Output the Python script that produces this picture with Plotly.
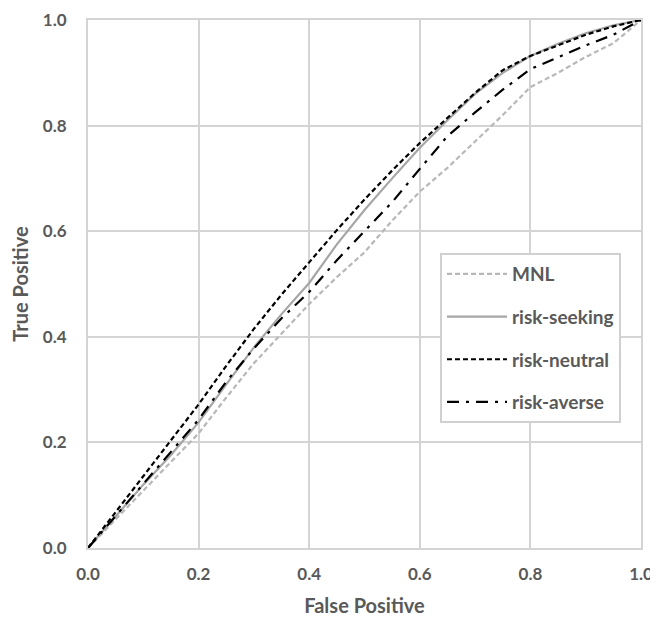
import plotly.graph_objects as go

fpr = [0.0, 0.05, 0.1, 0.15, 0.2, 0.25, 0.3, 0.35, 0.4, 0.45, 0.5,
       0.55, 0.6, 0.65, 0.7, 0.75, 0.8, 0.85, 0.9, 0.95, 1.0]

mnl = [0.0, 0.055, 0.11, 0.163, 0.217, 0.285, 0.35, 0.407, 0.462, 0.513, 0.56,
       0.62, 0.675, 0.72, 0.77, 0.82, 0.873, 0.90, 0.93, 0.956, 1.0]
risk_seeking = [0.0, 0.06, 0.12, 0.176, 0.238, 0.31, 0.38, 0.443, 0.502, 0.575, 0.64,
                0.70, 0.758, 0.81, 0.86, 0.90, 0.932, 0.955, 0.975, 0.99, 1.0]
risk_neutral = [0.0, 0.068, 0.136, 0.204, 0.272, 0.345, 0.415, 0.48, 0.542, 0.602, 0.66,
                0.715, 0.767, 0.815, 0.862, 0.905, 0.932, 0.952, 0.972, 0.988, 1.0]
risk_averse = [0.0, 0.06, 0.12, 0.182, 0.243, 0.315, 0.378, 0.435, 0.485, 0.545, 0.60,
               0.655, 0.718, 0.78, 0.825, 0.868, 0.907, 0.93, 0.952, 0.972, 1.0]

tick_vals = [0.0, 0.2, 0.4, 0.6, 0.8, 1.0]
tick_text = ["0.0", "0.2", "0.4", "0.6", "0.8", "1.0"]

series = [
    ("MNL", mnl, "#b8b8b8", "5px,3px"),
    ("risk-seeking", risk_seeking, "#a6a6a6", "solid"),
    ("risk-neutral", risk_neutral, "#000000", "5px,3px"),
    ("risk-averse", risk_averse, "#000000", "12px,7px,3px,7px"),
]

fig = go.Figure()
for i, (name, vals, col, dash) in enumerate(series):
    fig.add_trace(go.Scatter(
        x=fpr, y=vals, mode="lines", name=name, legendgroup=str(i),
        line=dict(color=col, width=2.2, dash=dash),
    ))

font_family = "Lato, 'Open Sans', sans-serif"
bold_font = dict(size=17, color="#595959", family=font_family, weight="bold")
# page body has an 8px margin, so the figure is 8px smaller and margins shifted
fig.update_layout(
    width=650, height=613,
    margin=dict(l=80, r=17, t=12, b=73),
    paper_bgcolor="white", plot_bgcolor="white",
    font=dict(family=font_family, color="#595959", size=16),
    showlegend=True,
    legend=dict(
        x=0.6365, y=0.5587, xanchor="left", yanchor="top",
        bgcolor="white", bordercolor="#d0d0d0", borderwidth=2,
        font=dict(size=19, color="#595959", family=font_family, weight="bold"),
        traceorder="grouped", tracegroupgap=15,
        itemwidth=60,
    ),
    xaxis=dict(
        range=[0, 1], tickvals=tick_vals, ticktext=tick_text,
        showgrid=True, gridcolor="#d4d4d4", gridwidth=2,
        showline=True, linecolor="#d4d4d4", linewidth=2, mirror=True,
        zeroline=False, ticks="outside", ticklen=10, tickcolor="rgba(0,0,0,0)",
        automargin=False,
        tickfont=bold_font,
        title=dict(text="False Positive", font=dict(size=20, color="#595959", weight="bold"), standoff=16),
    ),
    yaxis=dict(
        range=[0, 1], tickvals=tick_vals, ticktext=tick_text,
        showgrid=True, gridcolor="#d4d4d4", gridwidth=2,
        showline=True, linecolor="#d4d4d4", linewidth=2, mirror=True,
        zeroline=False, ticks="outside", ticklen=16, tickcolor="rgba(0,0,0,0)",
        automargin=False,
        tickfont=bold_font,
        title=dict(text="True Positive", font=dict(size=20, color="#595959", weight="bold"), standoff=16),
    ),
)

fig.write_html("out.html")
